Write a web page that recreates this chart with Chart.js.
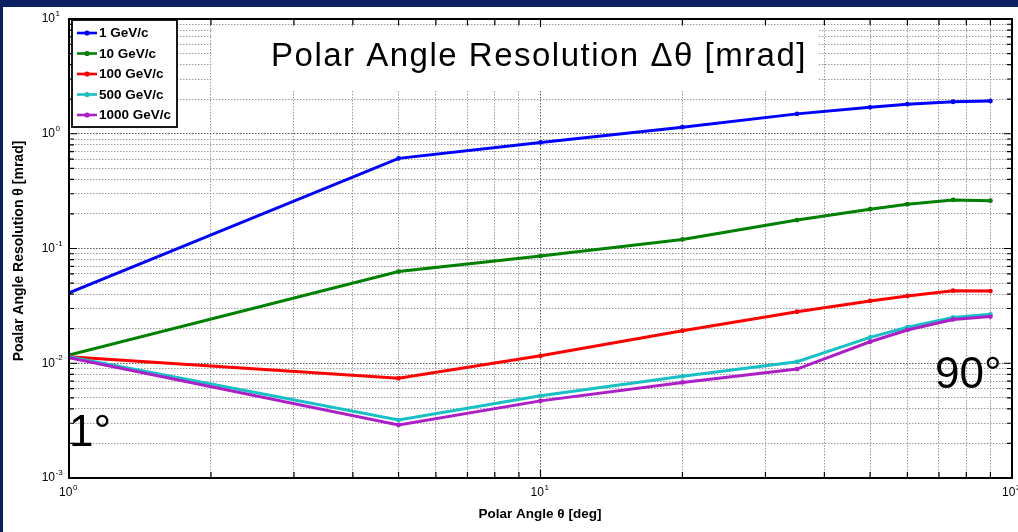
<!DOCTYPE html>
<html>
<head>
<meta charset="utf-8">
<title>Polar Angle Resolution</title>
<script src="https://cdn.jsdelivr.net/npm/chart.js@4.4.0/dist/chart.umd.min.js"></script>
<style>
  html, body { margin: 0; padding: 0; background: #0a2060; }
  canvas { display: block; }
</style>
</head>
<body>
<canvas id="chart" width="1018" height="532"></canvas>
<script>
// polar angle in degrees, resolution in mrad
const polarAngles = [1, 5, 10, 20, 35, 50, 60, 75, 90];
const momentumLabels = ["1 GeV/c", "10 GeV/c", "100 GeV/c", "500 GeV/c", "1000 GeV/c"];
const res1GeV = [0.041, 0.61, 0.84, 1.14, 1.49, 1.70, 1.81, 1.90, 1.93];
const res10GeV = [0.0118, 0.063, 0.086, 0.120, 0.177, 0.220, 0.243, 0.265, 0.261];
const res100GeV = [0.0114, 0.0074, 0.0116, 0.0192, 0.0281, 0.0349, 0.0386, 0.0429, 0.0426];
const res500GeV = [0.0114, 0.0032, 0.0052, 0.0077, 0.0103, 0.0168, 0.0206, 0.0251, 0.0267];
const res1000GeV = [0.0112, 0.0029, 0.0047, 0.0068, 0.0089, 0.0154, 0.0195, 0.0241, 0.0255];
const seriesValues = [res1GeV, res10GeV, res100GeV, res500GeV, res1000GeV];
const seriesColors = ["#0000ff", "#008000", "#ff0000", "#17c0c4", "#ad1fc6"];
const xTickExponents = [0, 1, 2];
const yTickExponents = [-3, -2, -1, 0, 1];

const FONT = '"Liberation Sans", Arial, sans-serif';

function pointsFor(values) {
  return polarAngles.map((x, i) => ({ x: x, y: values[i] }));
}

// 1..9 x 10^e for every decade, plus the closing decade
function decadeTicks(minExp, maxExp) {
  const ticks = [];
  for (let e = minExp; e < maxExp; e++) {
    for (let m = 1; m < 10; m++) {
      ticks.push(Number((m * Math.pow(10, e)).toPrecision(12)));
    }
  }
  ticks.push(Math.pow(10, maxExp));
  return ticks;
}

function isDecade(v) {
  const l = Math.log10(v);
  return Math.abs(l - Math.round(l)) < 1e-9;
}

function gridColor(ctx) {
  if (!ctx.tick) return "#999999";
  return isDecade(ctx.tick.value) ? "#555555" : "#9c9c9c";
}

function drawPower(ctx, exp, x, y, align) {
  ctx.font = "12px " + FONT;
  const baseW = ctx.measureText("10").width;
  ctx.font = "8px " + FONT;
  const expW = ctx.measureText(String(exp)).width;
  const left = align === "right" ? x - baseW : x - (baseW + expW) / 2;
  ctx.textAlign = "left";
  ctx.textBaseline = "middle";
  ctx.font = "12px " + FONT;
  ctx.fillText("10", left, y);
  ctx.font = "8px " + FONT;
  ctx.fillText(String(exp), left + baseW + 0.5, y - 5);
}

// dark slide background with the white figure panel
const framePlugin = {
  id: "frame",
  beforeDraw(chart) {
    const ctx = chart.ctx;
    ctx.save();
    ctx.fillStyle = "#0a2060";
    ctx.fillRect(0, 0, chart.width, chart.height);
    ctx.fillStyle = "#ffffff";
    ctx.fillRect(3, 7, chart.width - 3, chart.height - 7);
    ctx.restore();
  },
};

// axes box, inner ticks, labels, title, legend and angle notes
const decorPlugin = {
  id: "decor",
  afterDatasetsDraw(chart) {
    const ctx = chart.ctx;
    const area = chart.chartArea;
    const xs = chart.scales.x;
    const ys = chart.scales.y;
    ctx.save();

    // tick marks on all four sides
    ctx.strokeStyle = "#000";
    ctx.lineWidth = 1.2;
    ctx.beginPath();
    xs.ticks.forEach((t) => {
      const px = xs.getPixelForValue(t.value);
      const len = isDecade(t.value) ? 8 : 6;
      ctx.moveTo(px, area.bottom);
      ctx.lineTo(px, area.bottom - len);
      ctx.moveTo(px, area.top);
      ctx.lineTo(px, area.top + len);
    });
    ys.ticks.forEach((t) => {
      const py = ys.getPixelForValue(t.value);
      const len = isDecade(t.value) ? 8 : 5;
      ctx.moveTo(area.left, py);
      ctx.lineTo(area.left + len, py);
      ctx.moveTo(area.right, py);
      ctx.lineTo(area.right - len, py);
    });
    ctx.stroke();

    ctx.lineWidth = 2;
    ctx.strokeRect(area.left, area.top, area.right - area.left, area.bottom - area.top);

    // tick labels
    ctx.fillStyle = "#000";
    yTickExponents.forEach((e) => {
      drawPower(ctx, e, area.left - 14, ys.getPixelForValue(Math.pow(10, e)), "right");
    });
    xTickExponents.forEach((e) => {
      drawPower(ctx, e, xs.getPixelForValue(Math.pow(10, e)) - 1, area.bottom + 15, "center");
    });

    // axis titles
    ctx.textAlign = "center";
    ctx.textBaseline = "middle";
    ctx.font = "bold 13.5px " + FONT;
    ctx.fillText("Polar Angle \u03b8 [deg]", 540, 514);
    ctx.save();
    ctx.translate(19, 251);
    ctx.rotate(-Math.PI / 2);
    ctx.font = "bold 14px " + FONT;
    ctx.fillText("Poalar Angle Resolution \u03b8 [mrad]", 0, 0);
    ctx.restore();

    // title with its white box
    ctx.fillStyle = "#fff";
    ctx.fillRect(213, 28, 605, 62);
    ctx.fillStyle = "#000";
    ctx.font = "33px " + FONT;
    ctx.letterSpacing = "1.5px";
    ctx.textBaseline = "alphabetic";
    ctx.fillText("Polar Angle Resolution \u0394\u03b8 [mrad]", 539, 66);
    ctx.letterSpacing = "0px";

    // angle notes
    ctx.fillStyle = "#000";
    ctx.textAlign = "left";
    ctx.font = "44px " + FONT;
    ctx.fillText("1\u00b0", 69, 446);
    ctx.fillText("90\u00b0", 935, 388);

    // legend
    const lx = 72, ly = 20, lw = 105, lh = 107;
    ctx.fillStyle = "#fff";
    ctx.fillRect(lx, ly, lw, lh);
    ctx.strokeStyle = "#000";
    ctx.lineWidth = 1.8;
    ctx.strokeRect(lx, ly, lw, lh);
    chart.data.datasets.forEach((ds, i) => {
      const y = 33 + i * 20.5;
      ctx.strokeStyle = ds.borderColor;
      ctx.lineWidth = 2.6;
      ctx.beginPath();
      ctx.moveTo(77, y);
      ctx.lineTo(97, y);
      ctx.stroke();
      ctx.fillStyle = ds.borderColor;
      ctx.beginPath();
      ctx.arc(87, y, 2.6, 0, Math.PI * 2);
      ctx.fill();
      ctx.fillStyle = "#000";
      ctx.font = "bold 13.5px " + FONT;
      ctx.textBaseline = "middle";
      ctx.fillText(ds.label, 99, y + 0.5);
    });

    ctx.restore();
  },
};

const ctx = document.getElementById("chart").getContext("2d");

new Chart(ctx, {
  type: "scatter",
  data: {
    datasets: momentumLabels.map((label, i) => ({
      label: label,
      data: pointsFor(seriesValues[i]),
      showLine: true,
      borderColor: seriesColors[i],
      backgroundColor: seriesColors[i],
      borderWidth: 3,
      pointRadius: 2.4,
      pointBorderWidth: 0,
      pointHoverRadius: 0,
      order: momentumLabels.length - i,
    })),
  },
  options: {
    responsive: false,
    animation: false,
    events: [],
    layout: {
      autoPadding: false,
      padding: { left: 69, top: 19, right: 6, bottom: 54 },
    },
    plugins: {
      legend: { display: false },
      tooltip: { enabled: false },
    },
    scales: {
      x: {
        type: "logarithmic",
        min: 1,
        max: 100,
        afterBuildTicks: (scale) => {
          scale.ticks = decadeTicks(0, 2).map((v) => ({ value: v }));
        },
        ticks: { display: false, autoSkip: false },
        grid: { drawTicks: false, color: gridColor, lineWidth: 1 },
        border: { display: false, dash: [1.5, 1.5] },
      },
      y: {
        type: "logarithmic",
        min: 0.001,
        max: 10,
        afterBuildTicks: (scale) => {
          scale.ticks = decadeTicks(-3, 1).map((v) => ({ value: v }));
        },
        ticks: { display: false, autoSkip: false },
        grid: { drawTicks: false, color: gridColor, lineWidth: 1 },
        border: { display: false, dash: [1.5, 1.5] },
      },
    },
  },
  plugins: [framePlugin, decorPlugin],
});
</script>
</body>
</html>
